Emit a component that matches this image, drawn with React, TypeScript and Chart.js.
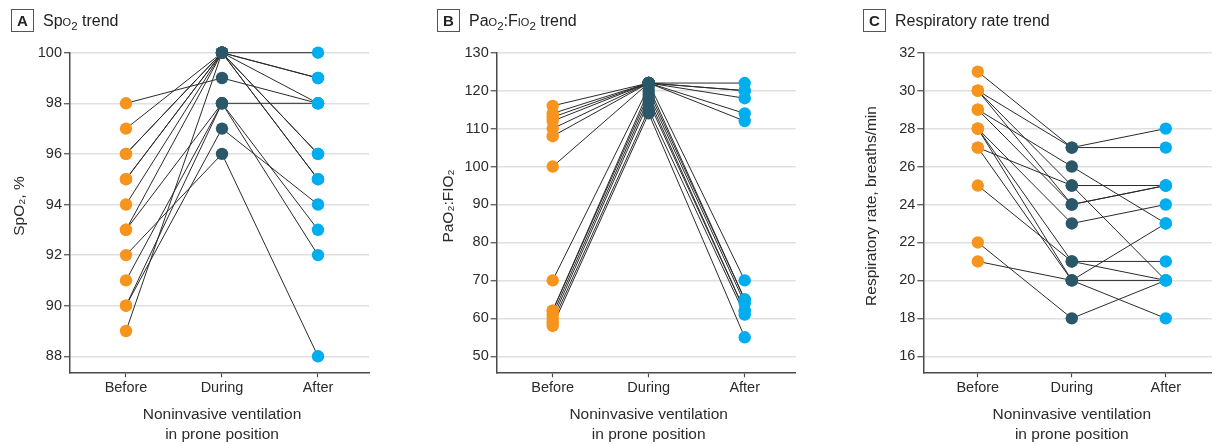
import React, { useEffect, useRef } from 'react';
import { Chart, registerables } from 'chart.js';

Chart.register(...registerables);

const FONT = "'Liberation Sans', Arial, sans-serif";
const TEXT = '#2b2b2b';
const AXIS = '#4a4a4a';
const ORANGE = '#F7941D';
const TEAL = '#2B5868';
const CYAN = '#00AEEF';

const categories = ['Before', 'During', 'After'];
const xTitle = ['Noninvasive ventilation', 'in prone position'];

// Panel A: SpO2 (%)
const spo2Before = [98, 97, 96, 96, 95, 95, 94, 93, 93, 92, 91, 90, 90, 89];
const spo2During = [99, 100, 100, 100, 100, 100, 100, 100, 98, 96, 98, 97, 98, 100];
const spo2After = [98, 99, 99, 95, 95, 100, 96, 98, 98, 88, 93, 94, 92, 96];
const spo2Ticks = [88, 90, 92, 94, 96, 98, 100];

// Panel B: PaO2:FIO2
const pfBefore = [116, 114, 113, 112, 110, 108, 100, 70, 62, 62, 61, 60, 59, 58];
const pfDuring = [122, 122, 122, 122, 122, 122, 122, 121, 120, 119, 118, 117, 115, 114];
const pfAfter = [122, 120, 120, 118, 114, 112, 70, 65, 65, 64, 62, 62, 61, 55];
const pfTicks = [50, 60, 70, 80, 90, 100, 110, 120, 130];

// Panel C: respiratory rate (breaths/min)
const rrBefore = [31, 30, 30, 30, 29, 29, 28, 28, 28, 27, 27, 25, 22, 21];
const rrDuring = [27, 27, 25, 24, 26, 24, 23, 21, 20, 25, 20, 21, 18, 20];
const rrAfter = [28, 27, 20, 25, 23, 25, 24, 21, 20, 25, 23, 20, 20, 18];
const rrTicks = [16, 18, 20, 22, 24, 26, 28, 30, 32];

type PanelCfg = {
  left: number;
  width: number;
  yWidth: number;
  padRight: number;
  yMin: number;
  yMax: number;
  yTicks: number[];
  yTitle: string;
  yTitleX: number;
  xMin: number;
  xMax: number;
  before: number[];
  during: number[];
  after: number[];
};

const panels: PanelCfg[] = [
  {
    left: 0, width: 406, yWidth: 70, padRight: 37,
    yMin: 87.368, yMax: 100, yTicks: spo2Ticks, yTitle: 'SpO₂, %', yTitleX: 20,
    xMin: -0.5833, xMax: 2.53125,
    before: spo2Before, during: spo2During, after: spo2After,
  },
  {
    left: 406, width: 406, yWidth: 90.7, padRight: 16.3,
    yMin: 45.78, yMax: 130, yTicks: pfTicks, yTitle: 'PaO₂:FIO₂', yTitleX: 42.5,
    xMin: -0.5833, xMax: 2.53125,
    before: pfBefore, during: pfDuring, after: pfAfter,
  },
  {
    left: 812, width: 406, yWidth: 111.3, padRight: 0,
    yMin: 15.157, yMax: 32, yTicks: rrTicks, yTitle: 'Respiratory rate, breaths/min', yTitleX: 59.5,
    xMin: -0.58, xMax: 2.4896,
    before: rrBefore, during: rrDuring, after: rrAfter,
  },
];

const axisTitlePlugin = {
  id: 'axisTitles',
  afterDraw(chart: any, _args: any, opts: any) {
    const { ctx } = chart;
    const xs = chart.scales.x;
    ctx.save();
    ctx.fillStyle = TEXT;
    ctx.font = `15.5px ${FONT}`;
    ctx.textAlign = 'center';
    ctx.textBaseline = 'alphabetic';
    const cx = xs.getPixelForValue(1);
    ctx.fillText(xTitle[0], cx, 419.3);
    ctx.fillText(xTitle[1], cx, 439);
    ctx.translate(opts.yTitleX, 206);
    ctx.rotate(-Math.PI / 2);
    ctx.textBaseline = 'middle';
    ctx.fillText(opts.yTitle, 0, 0);
    ctx.restore();
  },
};

function Panel({ cfg }: { cfg: PanelCfg }) {
  const ref = useRef<HTMLCanvasElement>(null);
  useEffect(() => {
    const canvas = ref.current;
    if (!canvas) return;
    const pointSet = (vals: number[], x: number, color: string) => ({
      data: vals.map((y) => ({ x, y })),
      backgroundColor: color,
      borderWidth: 0,
      pointRadius: 6.2,
      pointHoverRadius: 6.2,
      showLine: false,
      clip: false as any,
      order: 0,
    });
    const lineSets = cfg.before.map((b, i) => ({
      data: [
        { x: 0, y: b },
        { x: 1, y: cfg.during[i] },
        { x: 2, y: cfg.after[i] },
      ],
      showLine: true,
      borderColor: '#2a2a2a',
      borderWidth: 1,
      pointRadius: 0,
      pointHoverRadius: 0,
      clip: false as any,
      order: 1,
    }));
    const chart = new Chart(canvas, {
      type: 'scatter',
      data: {
        datasets: [
          pointSet(cfg.before, 0, ORANGE),
          pointSet(cfg.during, 1, TEAL),
          pointSet(cfg.after, 2, CYAN),
          ...lineSets,
        ] as any,
      },
      plugins: [axisTitlePlugin as any],
      options: {
        animation: false,
        responsive: false,
        maintainAspectRatio: false,
        layout: { padding: { left: 0, right: cfg.padRight, top: 52.7, bottom: 0 } },
        plugins: {
          legend: { display: false },
          tooltip: { enabled: false },
          axisTitles: { yTitle: cfg.yTitle, yTitleX: cfg.yTitleX },
        },
        scales: {
          x: {
            type: 'linear',
            min: cfg.xMin,
            max: cfg.xMax,
            afterBuildTicks: (s: any) => {
              s.ticks = [0, 1, 2].map((v) => ({ value: v }));
            },
            afterFit: (s: any) => {
              s.height = 71.7;
            },
            ticks: {
              callback: (v: any) => categories[Math.round(Number(v))] ?? '',
              font: { family: FONT, size: 14.5 },
              color: TEXT,
              padding: 2,
              maxRotation: 0,
              autoSkip: false,
            },
            grid: { drawOnChartArea: false, drawTicks: true, tickLength: 5, tickColor: AXIS, tickWidth: 1.2 },
            border: { color: AXIS, width: 1.5 },
            title: { display: false },
          },
          y: {
            type: 'linear',
            min: cfg.yMin,
            max: cfg.yMax,
            afterBuildTicks: (s: any) => {
              s.ticks = cfg.yTicks.map((v) => ({ value: v }));
            },
            afterFit: (s: any) => {
              s.width = cfg.yWidth;
            },
            ticks: {
              font: { family: FONT, size: 14.5 },
              color: TEXT,
              padding: 2,
            },
            grid: { color: '#e0e0e0', lineWidth: 1.5, tickLength: 6, tickColor: AXIS, tickWidth: 1.2 },
            border: { color: AXIS, width: 1.5 },
            title: { display: false },
          },
        },
      } as any,
    });
    return () => chart.destroy();
  }, [cfg]);
  return (
    <canvas
      ref={ref}
      width={cfg.width}
      height={444}
      style={{ position: 'absolute', left: cfg.left, top: 0, width: cfg.width, height: 444 }}
    />
  );
}

const sc: React.CSSProperties = { fontVariant: 'small-caps' };
const sub: React.CSSProperties = { fontSize: '0.72em', position: 'relative', top: '0.32em', lineHeight: 1 };

function Header({ left, letter, children }: { left: number; letter: string; children: React.ReactNode }) {
  return (
    <div
      style={{
        position: 'absolute',
        left,
        top: 9,
        display: 'flex',
        alignItems: 'center',
        fontFamily: FONT,
        color: '#222',
      }}
    >
      <div
        style={{
          width: 23,
          height: 23,
          boxSizing: 'border-box',
          border: '1.3px solid #555',
          fontWeight: 'bold',
          fontSize: 15,
          lineHeight: '21px',
          textAlign: 'center',
        }}
      >
        {letter}
      </div>
      <div style={{ marginLeft: 9, fontSize: 16, lineHeight: '23px', whiteSpace: 'nowrap' }}>{children}</div>
    </div>
  );
}

export default function App() {
  return (
    <div
      style={{
        position: 'fixed',
        left: 0,
        top: 0,
        width: 1218,
        height: 444,
        overflow: 'hidden',
        background: '#ffffff',
      }}
    >
      {panels.map((p, i) => (
        <Panel key={i} cfg={p} />
      ))}
      <Header left={11} letter="A">
        Sp<span style={sc}>o</span>
        <span style={sub}>2</span> trend
      </Header>
      <Header left={437} letter="B">
        Pa<span style={sc}>o</span>
        <span style={sub}>2</span>:F<span style={sc}>io</span>
        <span style={sub}>2</span> trend
      </Header>
      <Header left={863} letter="C">
        Respiratory rate trend
      </Header>
    </div>
  );
}
